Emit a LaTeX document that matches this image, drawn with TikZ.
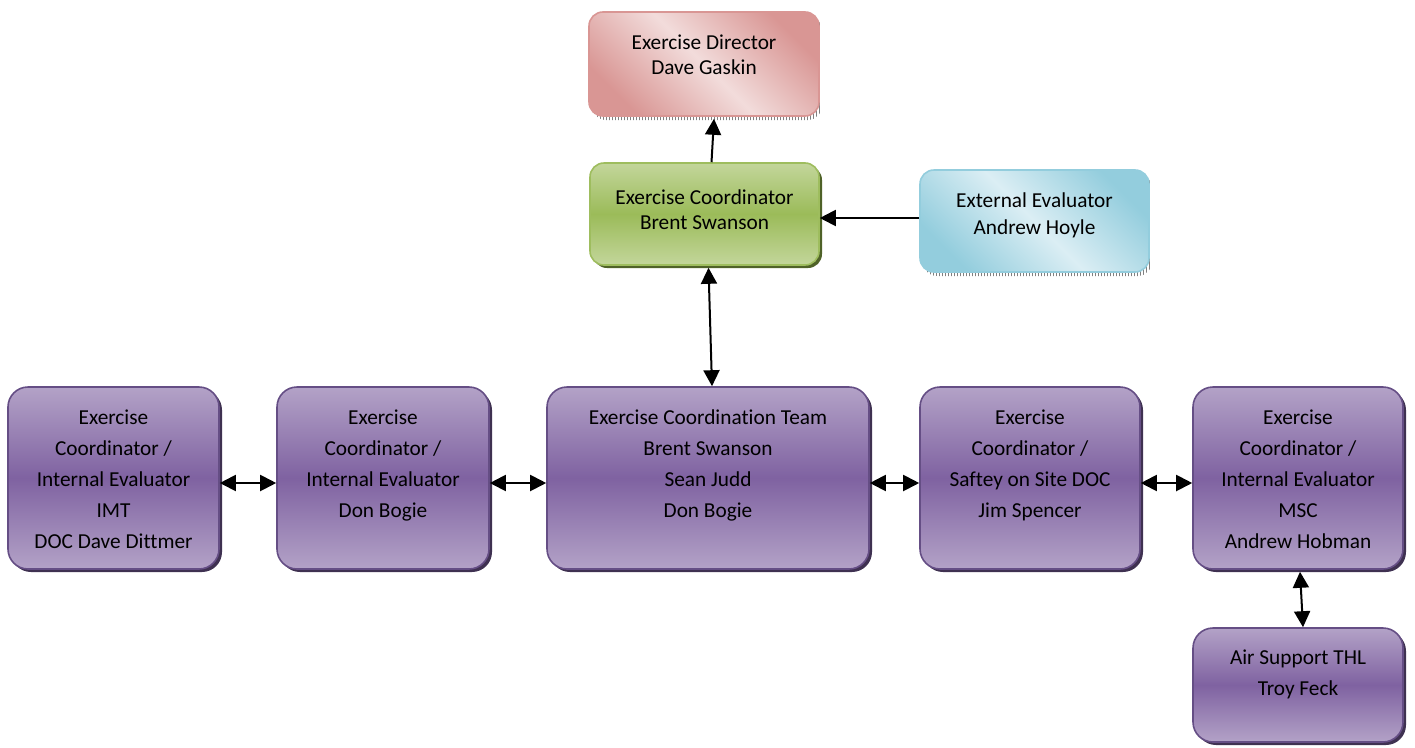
\documentclass[tikz,border=0pt]{standalone}
\usepackage{fontspec}
\setmainfont[Ligatures={NoCommon}]{Carlito}
\usetikzlibrary{shadows,arrows.meta,patterns}
\definecolor{purpLight}{HTML}{B3A2C7}
\definecolor{purpDark}{HTML}{7F62A1}
\definecolor{purpLine}{HTML}{654E85}
\definecolor{purpShadow}{HTML}{3F3151}
\definecolor{greenLight}{HTML}{C3D69B}
\definecolor{greenDark}{HTML}{9BBB59}
\definecolor{greenLine}{HTML}{9EBD5E}
\definecolor{greenShadow}{HTML}{4F6228}
\definecolor{pinkLight}{HTML}{F2DCDB}
\definecolor{pinkDark}{HTML}{D99694}
\definecolor{blueLight}{HTML}{DBEEF4}
\definecolor{blueDark}{HTML}{93CDDD}
\newcommand\boxtxt[5]{\parbox[c][#2pt][t]{#1pt}{\centering\fontsize{21.3pt}{#3pt}\selectfont\rule{0pt}{#4pt}#5}}
\begin{document}
\begin{tikzpicture}[x=1pt,y=-1pt,
  purp/.style={draw=purpLine, line width=1.6pt, inner sep=0pt, rounded corners=20pt,
    top color=purpLight, bottom color=purpLight, middle color=purpDark,
    drop shadow={shadow xshift=3pt, shadow yshift=-3pt, fill=purpShadow, opacity=1}},
  greenbox/.style={draw=greenLine, line width=1.6pt, inner sep=0pt, rounded corners=14pt,
    top color=greenLight, bottom color=greenLight, middle color=greenDark,
    drop shadow={shadow xshift=3pt, shadow yshift=-3pt, fill=greenShadow, opacity=1}},
  pinkbox/.style={draw=pinkDark, line width=1.6pt, inner sep=0pt, rounded corners=14pt,
    top color=pinkDark, bottom color=pinkDark, middle color=pinkLight, shading angle=-45,
    drop shadow={shadow xshift=3pt, shadow yshift=-4pt, pattern=vertical lines, pattern color=gray, opacity=1}},
  bluebox/.style={draw=blueDark, line width=1.6pt, inner sep=0pt, rounded corners=14pt,
    top color=blueDark, bottom color=blueDark, middle color=blueLight, shading angle=-45,
    drop shadow={shadow xshift=3pt, shadow yshift=-4pt, pattern=vertical lines, pattern color=gray, opacity=1}},
  arr/.style={line width=2pt, -{Triangle[length=16pt,width=16pt]}},
  darr/.style={line width=2pt, {Triangle[length=16pt,width=16pt]}-{Triangle[length=16pt,width=16pt]}}
]
\useasboundingbox (0,0) rectangle (1415,747);
\node[pinkbox] (dir) at (704,64) {\boxtxt{230}{104}{25}{37}{Exercise Director\\Dave Gaskin}};
\node[greenbox] (coord) at (704.5,214) {\boxtxt{229}{102}{25}{41}{Exercise Coordinator\\Brent Swanson}};
\node[bluebox] (ext) at (1034.5,221) {\boxtxt{229}{102}{27}{37}{External Evaluator\\Andrew Hoyle}};
\node[purp] (b1) at (113.5,478) {\boxtxt{211}{182}{31}{37}{Exercise\\Coordinator /\\Internal Evaluator\\IMT\\DOC Dave Dittmer}};
\node[purp] (b2) at (383,478) {\boxtxt{212}{182}{31}{37}{Exercise\\Coordinator /\\Internal Evaluator\\Don Bogie}};
\node[purp] (team) at (708,478) {\boxtxt{322}{182}{31}{37}{Exercise Coordination Team\\Brent Swanson\\Sean Judd\\Don Bogie}};
\node[purp] (b4) at (1030,478) {\boxtxt{220}{182}{31}{37}{Exercise\\Coordinator /\\Saftey on Site DOC\\Jim Spencer}};
\node[purp] (b5) at (1298,478) {\boxtxt{210}{182}{31}{37}{Exercise\\Coordinator /\\Internal Evaluator\\MSC\\Andrew Hobman}};
\node[purp] (b6) at (1298,685) {\boxtxt{210}{114}{31}{36}{Air Support THL\\Troy Feck}};
\draw[arr] ([xshift=7pt]coord.north) -- ([xshift=10pt,yshift=-2pt]dir.south);
\draw[arr] ([yshift=3pt]ext.west) -- ([yshift=-4pt]coord.east);
\draw[darr] ([xshift=4pt,yshift=-2pt]coord.south) -- ([xshift=4pt]team.north);
\draw[darr] ([yshift=-5pt]b1.east) -- ([yshift=-5pt]b2.west);
\draw[darr] ([yshift=-5pt]b2.east) -- ([yshift=-5pt]team.west);
\draw[darr] ([yshift=-5pt]team.east) -- ([yshift=-5pt]b4.west);
\draw[darr] ([yshift=-5pt]b4.east) -- ([yshift=-5pt]b5.west);
\draw[darr] ([xshift=2pt,yshift=-2pt]b5.south) -- ([xshift=5pt]b6.north);
\end{tikzpicture}
\end{document}
